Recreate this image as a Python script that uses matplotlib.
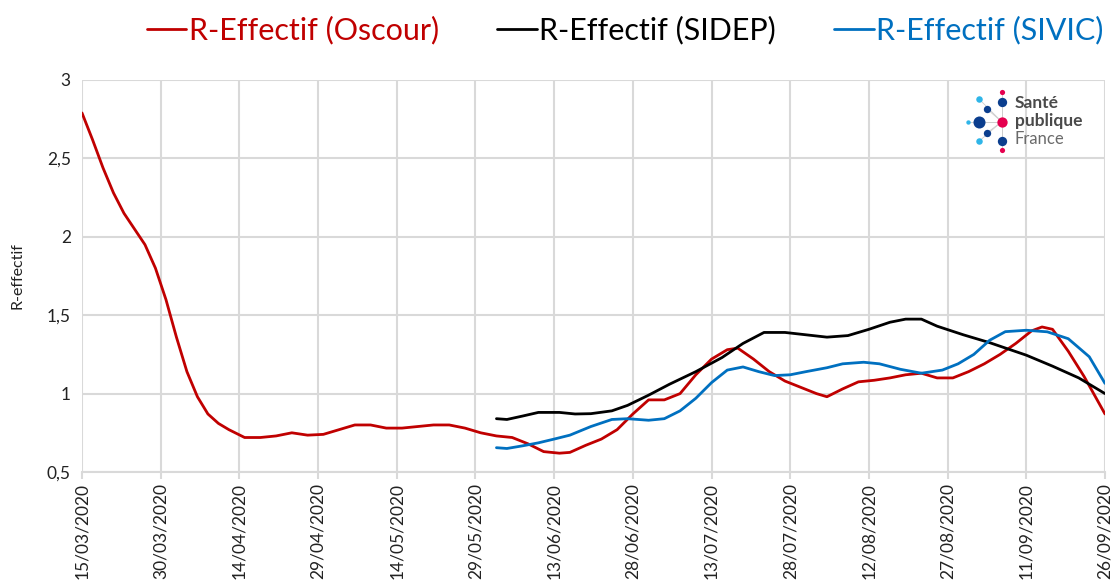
"""R-effectif curves (Oscour / SIDEP / SIVIC), March - September 2020."""
import matplotlib

matplotlib.use("Agg")

import matplotlib.dates as mdates  # noqa: E402
import matplotlib.pyplot as plt  # noqa: E402
import pandas as pd  # noqa: E402
from matplotlib.ticker import FuncFormatter  # noqa: E402

# ---------------------------------------------------------------------------
# Data
# ---------------------------------------------------------------------------
OSCOUR_DATES = [
    "2020-03-15", "2020-03-17", "2020-03-19", "2020-03-21", "2020-03-23",
    "2020-03-25", "2020-03-27", "2020-03-29", "2020-03-31", "2020-04-02",
    "2020-04-04", "2020-04-06", "2020-04-08", "2020-04-10", "2020-04-12",
    "2020-04-15", "2020-04-18", "2020-04-21",
    "2020-04-24", "2020-04-27", "2020-04-30", "2020-05-03", "2020-05-06",
    "2020-05-09", "2020-05-12", "2020-05-15", "2020-05-18", "2020-05-21",
    "2020-05-24", "2020-05-27", "2020-05-30", "2020-06-02", "2020-06-05",
    "2020-06-08", "2020-06-11", "2020-06-14", "2020-06-16", "2020-06-19",
    "2020-06-22", "2020-06-25", "2020-06-28", "2020-07-01", "2020-07-04",
    "2020-07-07", "2020-07-10", "2020-07-13", "2020-07-16", "2020-07-18",
    "2020-07-21", "2020-07-24", "2020-07-27", "2020-07-30", "2020-08-02",
    "2020-08-04", "2020-08-07", "2020-08-10", "2020-08-13", "2020-08-16",
    "2020-08-19", "2020-08-22", "2020-08-25", "2020-08-28", "2020-08-31",
    "2020-09-03", "2020-09-06", "2020-09-09", "2020-09-12", "2020-09-14",
    "2020-09-16", "2020-09-19", "2020-09-22", "2020-09-26",
]
OSCOUR_VALUES = [
    2.79, 2.62, 2.44, 2.28, 2.15,
    2.05, 1.95, 1.80, 1.60, 1.36,
    1.14, 0.98, 0.87, 0.81, 0.77,
    0.72, 0.72, 0.73,
    0.75, 0.735, 0.74, 0.77, 0.80,
    0.80, 0.78, 0.78, 0.79, 0.80,
    0.80, 0.78, 0.75, 0.73, 0.72,
    0.68, 0.63, 0.62, 0.625, 0.67,
    0.71, 0.77, 0.87, 0.96, 0.96,
    1.00, 1.12, 1.22, 1.28, 1.29,
    1.22, 1.14, 1.08, 1.04, 1.00,
    0.98, 1.03, 1.075, 1.085, 1.10,
    1.12, 1.13, 1.10, 1.10, 1.14,
    1.19, 1.25, 1.32, 1.40, 1.425,
    1.41, 1.27, 1.11, 0.87,
]

SIDEP_DATES = [
    "2020-06-02", "2020-06-04", "2020-06-07", "2020-06-10", "2020-06-14",
    "2020-06-17", "2020-06-20", "2020-06-24", "2020-06-27", "2020-07-01",
    "2020-07-05", "2020-07-10", "2020-07-15", "2020-07-19", "2020-07-23",
    "2020-07-27", "2020-07-31", "2020-08-04", "2020-08-08", "2020-08-12",
    "2020-08-16", "2020-08-19", "2020-08-22", "2020-08-25", "2020-08-30",
    "2020-09-04", "2020-09-11", "2020-09-16", "2020-09-21", "2020-09-26",
]
SIDEP_VALUES = [
    0.84, 0.835, 0.857, 0.88, 0.88,
    0.87, 0.872, 0.89, 0.925, 0.99,
    1.06, 1.14, 1.23, 1.32, 1.39,
    1.39, 1.375, 1.36, 1.37, 1.41,
    1.455, 1.475, 1.475, 1.43, 1.375,
    1.325, 1.245, 1.175, 1.10, 1.00,
]

SIVIC_DATES = [
    "2020-06-02", "2020-06-04", "2020-06-07", "2020-06-10", "2020-06-13",
    "2020-06-16", "2020-06-20", "2020-06-24", "2020-06-27", "2020-07-01",
    "2020-07-04", "2020-07-07", "2020-07-10", "2020-07-13", "2020-07-16",
    "2020-07-19", "2020-07-22", "2020-07-25", "2020-07-28", "2020-07-31",
    "2020-08-04", "2020-08-07", "2020-08-11", "2020-08-14", "2020-08-18",
    "2020-08-22", "2020-08-26", "2020-08-29", "2020-09-01", "2020-09-04",
    "2020-09-07", "2020-09-11", "2020-09-15", "2020-09-19", "2020-09-23",
    "2020-09-26",
]
SIVIC_VALUES = [
    0.655, 0.65, 0.667, 0.686, 0.71,
    0.735, 0.79, 0.835, 0.84, 0.83,
    0.84, 0.89, 0.97, 1.07, 1.15,
    1.17, 1.14, 1.115, 1.12, 1.14,
    1.165, 1.19, 1.20, 1.19, 1.155,
    1.13, 1.15, 1.19, 1.25, 1.34,
    1.395, 1.404, 1.394, 1.35, 1.235,
    1.065,
]

SERIES_LABELS = ["R-Effectif (Oscour)", "R-Effectif (SIDEP)", "R-Effectif (SIVIC)"]
SERIES_COLORS = ["#C00000", "#000000", "#0070C0"]

X_START = "2020-03-15"
X_END = "2020-09-26"
Y_TICKS = [0.5, 1.0, 1.5, 2.0, 2.5, 3.0]

FONT = ["Lato", "DejaVu Sans"]
GRID_COLOR = "#d9d9d9"


def fr_number(v, _pos=None):
    return f"{v:g}".replace(".", ",")


def draw_logo(fig):
    lax = fig.add_axes([930 / 1117, 1 - 160 / 586, 150 / 1117, 80 / 586])
    lax.set_xlim(930, 1080)
    lax.set_ylim(160, 80)
    lax.axis("off")
    cx, cy = 1001.7, 121.7
    dots = [
        (1001.7, 91.7, 14, "#e5004f"), (1001.7, 101.7, 45, "#0b3e8e"),
        (979.3, 99.3, 22, "#2fb5e8"), (987.3, 109.3, 28, "#0b3e8e"),
        (968.3, 121.7, 10, "#2fb5e8"), (979.3, 121.7, 75, "#0b3e8e"),
        (1001.7, 121.7, 55, "#e5004f"), (987.3, 132.7, 28, "#0b3e8e"),
        (979.3, 141.0, 22, "#2fb5e8"), (1001.7, 141.0, 45, "#0b3e8e"),
        (1001.7, 150.0, 14, "#e5004f"),
    ]
    for x, y, _s, _c in dots:
        lax.plot([cx, x], [cy, y], color="#cccccc", lw=0.6, zorder=1)
    for x, y, s, c in dots:
        lax.scatter([x], [y], s=s, color=c, zorder=2, linewidths=0)
    lax.text(1015, 103, "Santé", fontsize=12.5, fontweight="bold",
             color="#4a4a4a", va="center", family=FONT)
    lax.text(1015, 121, "publique", fontsize=12.5, fontweight="bold",
             color="#4a4a4a", va="center", family=FONT)
    lax.text(1015, 139, "France", fontsize=12, color="#6a6a6a",
             va="center", family=FONT)


def main():
    plt.rcParams["font.family"] = FONT
    fig = plt.figure(figsize=(11.17, 5.86), dpi=100)
    ax = fig.add_axes([82 / 1117, 114 / 586, 1023 / 1117, 392 / 586])

    all_dates = [OSCOUR_DATES, SIDEP_DATES, SIVIC_DATES]
    all_values = [OSCOUR_VALUES, SIDEP_VALUES, SIVIC_VALUES]
    handles = []
    for dates, values, label, color in zip(all_dates, all_values,
                                           SERIES_LABELS, SERIES_COLORS):
        (line,) = ax.plot(pd.to_datetime(dates), values, color=color, lw=2.0,
                          label=label, zorder=3, solid_capstyle="round",
                          solid_joinstyle="round")
        handles.append(line)

    start = pd.Timestamp(X_START)
    end = pd.Timestamp(X_END)
    ax.set_xlim(start, end)
    ax.set_ylim(0.5, 3.0)
    ax.set_xticks(pd.date_range(start, end, freq="15D"))
    ax.xaxis.set_major_formatter(mdates.DateFormatter("%d/%m/%Y"))
    ax.set_yticks(Y_TICKS)
    ax.yaxis.set_major_formatter(FuncFormatter(fr_number))

    ax.grid(True, color=GRID_COLOR, lw=1.5, zorder=0)
    ax.set_axisbelow(True)
    for side in ["top", "right", "left"]:
        ax.spines[side].set_visible(False)
    ax.spines["bottom"].set_color(GRID_COLOR)
    ax.spines["bottom"].set_linewidth(1.5)

    ax.tick_params(axis="x", rotation=90, labelsize=12.5, colors="#222222",
                   length=5, width=1.5, color=GRID_COLOR, pad=3)
    ax.tick_params(axis="y", labelsize=12.5, colors="#222222", length=0, pad=8)
    ax.set_ylabel("R-effectif", fontsize=11.5, color="#222222", labelpad=16)

    leg = fig.legend(handles=handles, loc="center", ncol=3,
                     bbox_to_anchor=(625 / 1117, 1 - 30 / 586), frameon=False,
                     fontsize=22, handlelength=1.3, handletextpad=0.08,
                     columnspacing=1.9)
    for text, color in zip(leg.get_texts(), SERIES_COLORS):
        text.set_color(color)

    draw_logo(fig)
    fig.savefig("out.png", dpi=100)
    plt.close(fig)


if __name__ == "__main__":
    main()
